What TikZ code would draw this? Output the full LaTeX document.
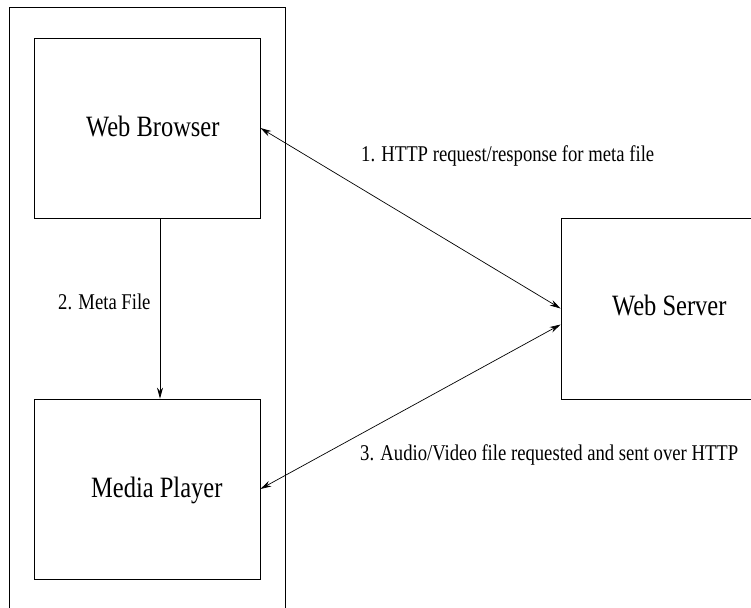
\documentclass[tikz,border=0pt]{standalone}
\usepackage{fontspec}
\setmainfont{Liberation Serif}
\newfontfamily\condensed[FakeStretch=0.83]{Liberation Serif}
\usetikzlibrary{arrows.meta,calc}
\begin{document}
\begin{tikzpicture}[x=1pt,y=-1pt,
  box/.style={draw, line width=0.8pt, minimum width=#1, inner sep=0pt},
  boxtext/.style={anchor=base west, inner sep=0pt, font=\condensed\fontsize{29.5}{30}\selectfont},
  labeltext/.style={anchor=base west, inner sep=0pt, font=\condensed\fontsize{22.5}{24}\selectfont},
  link/.style={line width=0.7pt, {Stealth[length=11pt,width=6pt]}-{Stealth[length=11pt,width=6pt]}},
  flow/.style={line width=0.7pt, -{Stealth[length=11pt,width=6pt]}}]
\useasboundingbox (0,0) rectangle (751,607);
\clip (0,0) rectangle (751,607);

% client machine enclosing browser and player
\node[box=276pt, minimum height=620pt] (client) at (147,317) {};

% component boxes
\node[box=226pt, minimum height=180pt] (wb) at (147,128) {};
\node[box=226pt, minimum height=180pt] (mp) at (147,489) {};
\node[box=220pt, minimum height=181pt] (ws) at (671,308.5) {};

% box captions
\node[boxtext] (wbt) at (86,136) {Web Browser};
\node[boxtext] (mpt) at (91,497) {Media Player};
\node[boxtext] (wst) at (612,315) {Web Server};

% connector end points
\coordinate (wbs) at ($(wb.south)+(13,0)$);
\coordinate (mpn) at ($(mp.north)+(13,0)$);
\coordinate (wsl) at ($(ws.west)+(0,16)$);

% connectors
\draw[link] (wb.east) -- (ws.west);
\draw[flow] (wbs) -- (mpn);
\draw[link] (mp.east) -- (wsl);

% connector labels
\node[labeltext] (l1) at (361,161) {1. HTTP request/response for meta file};
\node[labeltext] (l2) at (58,309) {2. Meta File};
\node[labeltext] (l3) at (360,460) {3. Audio/Video file requested and sent over HTTP};
\end{tikzpicture}
\end{document}
